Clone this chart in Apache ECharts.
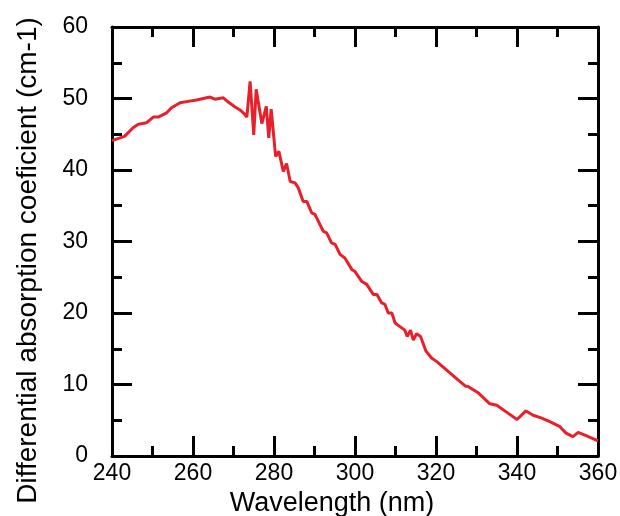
<!DOCTYPE html>
<html>
<head>
<meta charset="utf-8">
<script src="https://cdn.jsdelivr.net/npm/echarts@6/dist/echarts.min.js"></script>
<style>
  html, body { margin: 0; padding: 0; background: #fff; }
  #chart { width: 620px; height: 516px; }
</style>
</head>
<body>
<div id="chart"></div>
<script>
  // values
  var wavelength = [240, 243.1, 245.2, 246.5, 248.5, 250.2, 251.4, 253.5, 254.7, 256.8,
    258.8, 260.9, 264.2, 265.4, 267.5, 268.7, 270.4, 271.6, 272.6, 273.3,
    274.1, 275.0, 275.6, 277.0, 278.1, 278.7, 279.3, 280.4, 281.2, 282.3,
    283.1, 284.0, 285.2, 286.0, 287.2, 288.1, 289.3, 290.1, 292.2, 293.0,
    294.2, 295.1, 296.3, 297.5, 299.2, 300.0, 301.7, 302.9, 304.5, 305.4,
    306.6, 307.4, 308.2, 309.1, 309.9, 311.1, 312.3, 312.9, 313.7, 314.4,
    315.2, 316.2, 317.5, 318.9, 320.2, 323.5, 325.5, 327.2, 328.0, 330.5,
    333.3, 335.0, 337.5, 340.0, 342.2, 344.0, 346.1, 348.1, 350.6, 352.1,
    353.8, 355.1, 357.2, 360];
  var coefficient = [44.1, 44.7, 45.9, 46.4, 46.6, 47.4, 47.4, 48.0, 48.7, 49.4,
    49.6, 49.8, 50.2, 49.9, 50.1, 49.5, 48.8, 48.4, 47.9, 47.4,
    52.4, 44.9, 51.3, 46.5, 48.9, 44.5, 48.5, 41.9, 42.6, 39.8,
    40.9, 38.4, 38.2, 37.5, 35.6, 35.6, 34.0, 33.8, 31.4, 31.2,
    29.8, 29.6, 28.2, 27.7, 26.1, 25.8, 24.4, 24.0, 22.6, 22.6,
    21.4, 21.2, 20.0, 20.0, 18.6, 18.1, 17.6, 16.7, 17.6, 16.2,
    17.1, 16.7, 14.7, 13.7, 13.2, 11.6, 10.6, 9.8, 9.7, 8.8,
    7.3, 7.1, 6.1, 5.1, 6.3, 5.7, 5.3, 4.8, 4.1, 3.2,
    2.7, 3.3, 2.8, 2.1];

  var seriesData = [];
  for (var i = 0; i < wavelength.length; i++) {
    seriesData.push([wavelength[i], coefficient[i]]);
  }

  var font = 'Liberation Sans, Arial, sans-serif';
  var lineStyle = { color: '#000', width: 3 };

  var chart = echarts.init(document.getElementById('chart'));

  var frameAxis = function (extra) {
    var base = {
      type: 'value',
      axisLine: { show: true, onZero: false, lineStyle: lineStyle },
      axisTick: { show: true, inside: true, length: 20, lineStyle: lineStyle },
      minorTick: { show: true, splitNumber: 2, length: 10, lineStyle: lineStyle },
      splitLine: { show: false },
      minorSplitLine: { show: false }
    };
    for (var k in extra) base[k] = extra[k];
    return base;
  };

  var option = {
    animation: false,
    grid: { left: 112, right: 22, top: 27, bottom: 60, outerBoundsMode: 'none' },
    xAxis: [
      frameAxis({
        min: 240, max: 360, interval: 20, position: 'bottom',
        name: 'Wavelength (nm)', nameLocation: 'middle', nameGap: 28,
        nameTextStyle: { fontFamily: font, fontSize: 27, color: '#000', padding: [0, 46, 0, 0] },
        axisLabel: { fontFamily: font, fontSize: 23, color: '#000', margin: 6 }
      }),
      frameAxis({
        min: 240, max: 360, interval: 20, position: 'top',
        axisLabel: { show: false }
      })
    ],
    yAxis: [
      frameAxis({
        min: 0, max: 60, interval: 10, position: 'left',
        name: 'Differential absorption coeficient (cm-1)', nameLocation: 'middle', nameGap: 70,
        nameTextStyle: { fontFamily: font, fontSize: 28, color: '#000', padding: [0, 38, 0, 0] },
        axisLabel: { fontFamily: font, fontSize: 23, color: '#000', margin: 24 }
      }),
      frameAxis({
        min: 0, max: 60, interval: 10, position: 'right',
        axisLabel: { show: false }
      })
    ],
    series: [{
      type: 'line',
      data: seriesData,
      showSymbol: false,
      lineStyle: { color: '#e8202a', width: 3 }
    }]
  };

  chart.setOption(option);
</script>
</body>
</html>
